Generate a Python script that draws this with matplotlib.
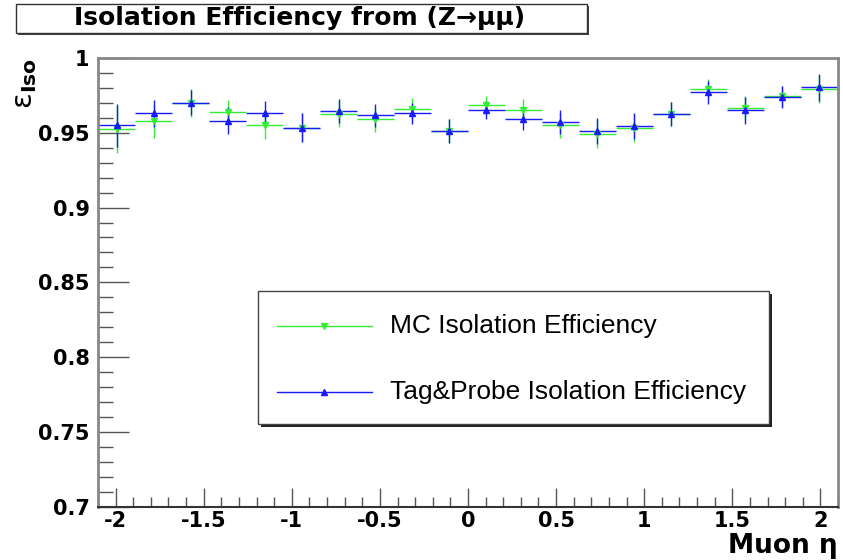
import numpy as np
import matplotlib.pyplot as plt
from matplotlib.patches import Rectangle
from matplotlib.lines import Line2D
from matplotlib.ticker import MultipleLocator

# bin centres in muon eta (20 bins from -2.1 to 2.1)
eta = [-1.995, -1.785, -1.575, -1.365, -1.155, -0.945, -0.735, -0.525, -0.315, -0.105,
       0.105, 0.315, 0.525, 0.735, 0.945, 1.155, 1.365, 1.575, 1.785, 1.995]
half_width = 0.105

# MC isolation efficiency
mc_eff = [0.9522, 0.9578, 0.9700, 0.9636, 0.9551, 0.9535, 0.9625, 0.9589, 0.9656, 0.9513,
          0.9685, 0.9651, 0.9549, 0.9495, 0.9533, 0.9625, 0.9790, 0.9663, 0.9745, 0.9790]
mc_err = [0.016, 0.011, 0.0095, 0.008, 0.0094, 0.0094, 0.0085, 0.0085, 0.0074, 0.008,
          0.006, 0.0072, 0.0083, 0.0094, 0.0093, 0.008, 0.0067, 0.008, 0.007, 0.0094]

# Tag&Probe isolation efficiency
tp_eff = [0.9549, 0.9629, 0.9701, 0.9580, 0.9634, 0.9535, 0.9647, 0.9616, 0.9629, 0.9513,
          0.9651, 0.9593, 0.9571, 0.9511, 0.9546, 0.9625, 0.9770, 0.9649, 0.9740, 0.9803]
tp_err = [0.0145, 0.009, 0.0085, 0.009, 0.008, 0.0094, 0.008, 0.0076, 0.0072, 0.008,
          0.0062, 0.0076, 0.008, 0.0085, 0.0088, 0.008, 0.0075, 0.009, 0.0076, 0.009]

xticks = [-2, -1.5, -1, -0.5, 0, 0.5, 1, 1.5, 2]
xtick_labels = ['-2', '-1.5', '-1', '-0.5', '0', '0.5', '1', '1.5', '2']
yticks = [0.7, 0.75, 0.8, 0.85, 0.9, 0.95, 1.0]
ytick_labels = ['0.7', '0.75', '0.8', '0.85', '0.9', '0.95', '1']

green = '#33ee33'
blue = '#1a1aff'
W, H = 843, 560

fig = plt.figure(figsize=(8.43, 5.6), dpi=100)
ax = fig.add_axes([98 / W, 1 - 506.7 / H, 740 / W, 448.7 / H])

ax.errorbar(eta, mc_eff, xerr=half_width, yerr=mc_err, fmt='v', color=green,
            ms=5, lw=1, capsize=0)
ax.errorbar(eta, tp_eff, xerr=half_width, yerr=tp_err, fmt='^', color=blue,
            ms=5, lw=1, capsize=0)

ax.set_xlim(-2.1, 2.1)
ax.set_ylim(0.7, 1.0)
ax.set_xticks(xticks)
ax.set_xticklabels(xtick_labels)
ax.set_yticks(yticks)
ax.set_yticklabels(ytick_labels)
ax.xaxis.set_minor_locator(MultipleLocator(0.1))
ax.yaxis.set_minor_locator(MultipleLocator(0.01))

ax.tick_params(direction='in', which='both', color='#555555', labelcolor='black')
ax.tick_params(axis='x', which='major', length=14, width=1, pad=3)
ax.tick_params(axis='x', which='minor', length=7, width=1)
ax.tick_params(axis='y', which='major', length=22, width=1, pad=6)
ax.tick_params(axis='y', which='minor', length=11, width=1)
for lab in ax.get_xticklabels() + ax.get_yticklabels():
    lab.set_fontsize(15)
    lab.set_fontweight('bold')

for side in ['left', 'right', 'top']:
    ax.spines[side].set_color('#888888')
    ax.spines[side].set_linewidth(2)
ax.spines['bottom'].set_color('#333333')
ax.spines['bottom'].set_linewidth(1.5)

# title box
fig.add_artist(Rectangle((18 / W, 1 - 35 / H), 571 / W, 29 / H, transform=fig.transFigure,
                         facecolor='#444444', edgecolor='none'))
fig.add_artist(Rectangle((16 / W, 1 - 33 / H), 571 / W, 29 / H, transform=fig.transFigure,
                         facecolor='white', edgecolor='#333333', lw=1))
fig.text(300 / W, 1 - 18.5 / H, 'Isolation Efficiency from (Z→μμ)',
         ha='center', va='center', fontsize=18, fontweight='bold')

# axis labels
fig.text(25 / W, 1 - 58 / H, r'$\mathrm{\epsilon}_{\mathbf{Iso}}$', rotation=90,
         ha='center', va='top', fontsize=21)
fig.text(838 / W, 1 - 553 / H, 'Muon η', ha='right', va='baseline',
         fontsize=19, fontweight='bold')

# legend box
lx0, ly0, lx1, ly1 = 258, 291, 769, 424
fig.add_artist(Rectangle(((lx0 + 3) / W, 1 - (ly1 + 3) / H), (lx1 - lx0) / W, (ly1 - ly0) / H,
                         transform=fig.transFigure, facecolor='#222222', edgecolor='none'))
fig.add_artist(Rectangle((lx0 / W, 1 - ly1 / H), (lx1 - lx0) / W, (ly1 - ly0) / H,
                         transform=fig.transFigure, facecolor='white', edgecolor='#444444', lw=1))
entries = [('MC Isolation Efficiency', green, 'v', 326),
           ('Tag&Probe Isolation Efficiency', blue, '^', 392)]
for label, col, mk, yy in entries:
    fig.add_artist(Line2D([277 / W, 372 / W], [1 - yy / H, 1 - yy / H],
                          transform=fig.transFigure, color=col, lw=1))
    fig.add_artist(Line2D([324 / W], [1 - yy / H], transform=fig.transFigure,
                          color=col, marker=mk, ms=4, lw=0))
    fig.text(390 / W, 1 - yy / H, label, ha='left', va='center', fontsize=19,
             family='Liberation Sans')

fig.savefig('out.png', dpi=100)
